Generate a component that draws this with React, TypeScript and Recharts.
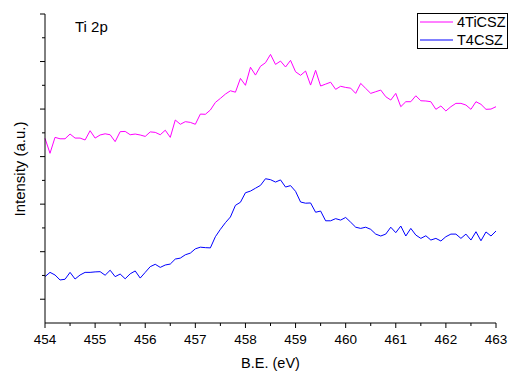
import React from 'react';
import { LineChart, Line, XAxis, YAxis } from 'recharts';

// Ti 2p core-level spectra, binding energy sampled every 0.1 eV from 454.0 to 463.0
const energyStart = 454;
const energyStep = 0.1;

const tiCszIntensity = [
  77.7, 71.4, 78.1, 77.5, 77.5, 79.5, 77.8, 77.8, 77.0, 80.9,
  77.8, 79.1, 79.6, 79.2, 76.3, 80.5, 80.6, 79.2, 79.5, 79.1,
  78.5, 80.4, 80.2, 79.2, 81.1, 78.1, 85.4, 83.6, 84.7, 84.4,
  83.6, 87.9, 87.8, 89.6, 92.8, 94.5, 96.3, 97.7, 97.1, 102.9,
  100.0, 107.6, 104.3, 108.0, 109.5, 113.0, 108.8, 110.2, 107.7, 110.5,
  105.7, 104.2, 106.0, 100.1, 106.3, 99.7, 100.5, 101.3, 98.3, 99.6,
  99.1, 98.8, 96.6, 100.8, 98.7, 96.6, 97.3, 98.0, 95.2, 93.8,
  96.6, 91.0, 93.1, 93.1, 95.6, 93.5, 93.4, 93.1, 89.9, 91.3,
  89.2, 91.0, 92.4, 92.4, 91.7, 89.9, 93.1, 92.0, 89.9, 90.0,
  91.0,
];

const t4CszIntensity = [
  19.5, 21.3, 20.2, 18.1, 18.4, 21.3, 18.5, 20.2, 21.3, 21.3,
  21.5, 21.6, 20.1, 22.2, 19.5, 20.6, 18.6, 20.7, 21.9, 18.9,
  21.3, 23.7, 24.7, 23.4, 24.4, 24.8, 26.9, 27.3, 28.7, 29.4,
  31.2, 31.9, 31.7, 31.6, 36.3, 39.4, 42.2, 44.6, 49.5, 50.8,
  54.8, 55.5, 56.7, 57.9, 60.7, 60.3, 59.3, 60.2, 57.2, 57.8,
  55.4, 50.9, 50.4, 50.5, 46.6, 47.1, 43.0, 43.0, 43.9, 43.3,
  44.4, 42.4, 40.3, 39.8, 40.3, 39.4, 37.4, 36.6, 37.4, 40.3,
  38.0, 40.8, 36.6, 39.8, 37.0, 35.6, 36.7, 34.9, 35.6, 34.5,
  36.3, 37.4, 37.4, 35.6, 37.4, 34.9, 38.4, 34.6, 38.3, 36.6,
  38.7,
];

const seriesNames = ['4TiCSZ', 'T4CSZ'];
const seriesColors = ['#ff00ff', '#0000ff'];

const xTicks = [
  454, 454.5, 455, 455.5, 456, 456.5, 457, 457.5, 458, 458.5,
  459, 459.5, 460, 460.5, 461, 461.5, 462, 462.5, 463,
];
const yTicks = [10, 20, 30, 40, 50, 60, 70, 80, 90, 100, 110, 120, 130];

const data = tiCszIntensity.map((v, i) => ({
  be: Number((energyStart + i * energyStep).toFixed(1)),
  a: v,
  b: t4CszIntensity[i],
}));

const FONT = '"Liberation Sans", Arial, Helvetica, sans-serif';

const XTick = (props: any) => {
  const { x, y, payload } = props;
  const major = Number.isInteger(payload.value);
  return (
    <g>
      <line x1={x} x2={x} y1={y} y2={y + (major ? 5 : 3)} stroke="#000" strokeWidth={1} />
      {major && (
        <text x={x} y={y + 21} textAnchor="middle" fontSize={13.5} fontFamily={FONT} fill="#000">
          {payload.value}
        </text>
      )}
    </g>
  );
};

const YTick = (props: any) => {
  const { x, y, payload } = props;
  const major = Math.round(payload.value / 10) % 2 === 1;
  return <line x1={x} x2={x - (major ? 5 : 3)} y1={y} y2={y} stroke="#000" strokeWidth={1} />;
};

const XTitle = () => (
  <text x={270.5} y={368} textAnchor="middle" fontSize={14.5} fontFamily={FONT} fill="#000">
    B.E. (eV)
  </text>
);

const YTitle = () => (
  <text
    transform="translate(24.5,169) rotate(-90)"
    textAnchor="middle"
    fontSize={15}
    fontFamily={FONT}
    fill="#000"
  >
    Intensity (a.u.)
  </text>
);

export default function App() {
  return (
    <div style={{ position: 'absolute', left: 0, top: 0, width: 509, height: 371, background: '#fff' }}>
      <LineChart
        width={509}
        height={371}
        data={data}
        margin={{ top: 14, right: 13, bottom: 0, left: 0 }}
      >
        <XAxis
          dataKey="be"
          type="number"
          domain={[454, 463]}
          ticks={xTicks}
          interval={0}
          height={48}
          tickSize={0}
          tickMargin={0}
          tickLine={false}
          tick={<XTick />}
          axisLine={{ stroke: '#000', strokeWidth: 1 }}
          label={<XTitle />}
        />
        <YAxis
          type="number"
          domain={[0, 130]}
          ticks={yTicks}
          interval={0}
          width={45}
          tickSize={0}
          tickMargin={0}
          tickLine={false}
          tick={<YTick />}
          axisLine={{ stroke: '#000', strokeWidth: 1 }}
          label={<YTitle />}
        />
        <Line
          type="linear"
          dataKey="a"
          name={seriesNames[0]}
          stroke={seriesColors[0]}
          strokeWidth={1}
          dot={false}
          isAnimationActive={false}
        />
        <Line
          type="linear"
          dataKey="b"
          name={seriesNames[1]}
          stroke={seriesColors[1]}
          strokeWidth={1}
          dot={false}
          isAnimationActive={false}
        />
      </LineChart>
      <svg
        width={509}
        height={371}
        style={{ position: 'absolute', left: 0, top: 0, pointerEvents: 'none' }}
      >
        <text x={75} y={31.5} fontSize={15} fontFamily={FONT} fill="#000">
          Ti 2p
        </text>
        <rect x={417.5} y={13.5} width={90} height={35} fill="#fff" stroke="#000" strokeWidth={1} />
        {seriesNames.map((name, i) => (
          <g key={name}>
            <line x1={420} x2={453} y1={22 + i * 18} y2={22 + i * 18} stroke={seriesColors[i]} strokeWidth={1} />
            <text x={457} y={26.7 + i * 18.6} fontSize={14.5} fontFamily={FONT} fill="#000">
              {name}
            </text>
          </g>
        ))}
      </svg>
    </div>
  );
}
